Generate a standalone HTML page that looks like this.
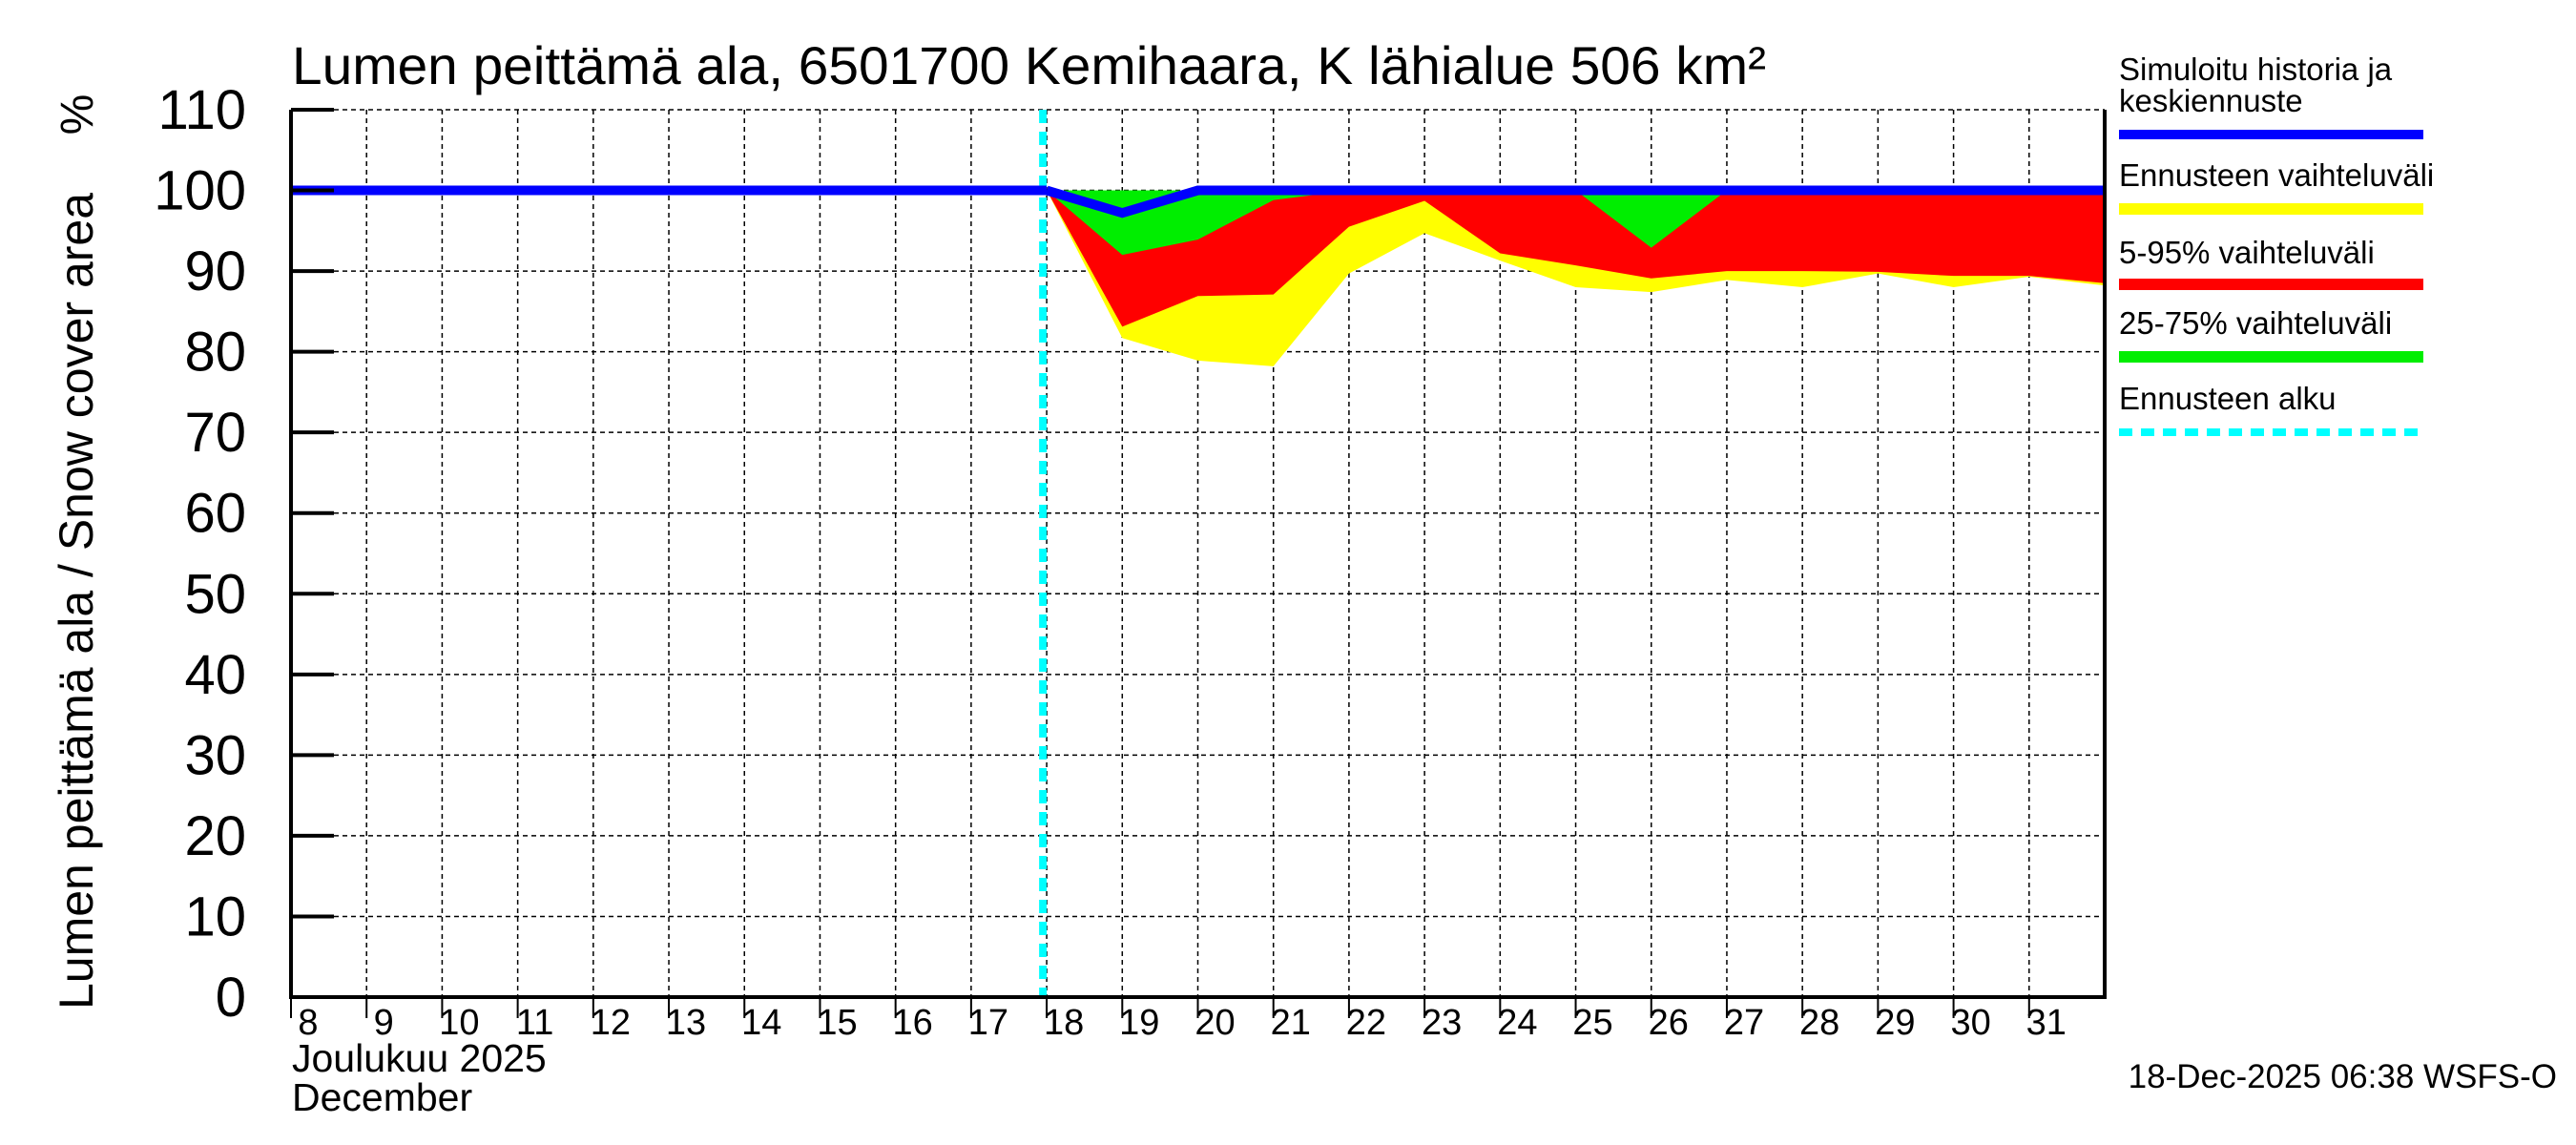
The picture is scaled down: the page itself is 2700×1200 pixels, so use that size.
<!DOCTYPE html>
<html><head><meta charset="utf-8"><style>
body{margin:0;background:#fff;}
svg{display:block;font-family:"Liberation Sans",sans-serif;}
</style></head><body>
<svg id="chart" width="2700" height="1200" viewBox="0 0 2700 1200">
<g id="grid"></g>
<g id="areas"></g>
<g id="lines"></g>
<g id="axes"></g>
<text x="306" y="88" font-size="56" textLength="1545" lengthAdjust="spacingAndGlyphs">Lumen peittämä ala, 6501700 Kemihaara, K lähialue 506 km²</text>
<text transform="translate(97,630) rotate(-90)" text-anchor="middle" font-size="50">Lumen peittämä ala / Snow cover area</text>
<text transform="translate(97,120) rotate(-90)" text-anchor="middle" font-size="48">%</text>
<text x="306" y="1123" font-size="41">Joulukuu  2025</text>
<text x="306" y="1164" font-size="41">December</text>
<text x="2680" y="1140" text-anchor="end" font-size="35">18-Dec-2025 06:38 WSFS-O</text>
<g font-size="33">
<text x="2221" y="84">Simuloitu historia ja</text>
<text x="2221" y="117">keskiennuste</text>
<line x1="2221" x2="2540" y1="141" y2="141" stroke="#0000ff" stroke-width="10"/>
<text x="2221" y="195">Ennusteen vaihteluväli</text>
<line x1="2221" x2="2540" y1="219" y2="219" stroke="#ffff00" stroke-width="12"/>
<text x="2221" y="276">5-95% vaihteluväli</text>
<line x1="2221" x2="2540" y1="298" y2="298" stroke="#ff0000" stroke-width="12"/>
<text x="2221" y="350">25-75% vaihteluväli</text>
<line x1="2221" x2="2540" y1="374" y2="374" stroke="#00ee00" stroke-width="12"/>
<text x="2221" y="429">Ennusteen alku</text>
<line x1="2221" x2="2540" y1="453" y2="453" stroke="#00ffff" stroke-width="8" stroke-dasharray="14,9"/>
</g>
</svg>
<script>
const days = [8,9,10,11,12,13,14,15,16,17,18,19,20,21,22,23,24,25,26,27,28,29,30,31];
const yTicks = [0,10,20,30,40,50,60,70,80,90,100,110];
const fcDays = [18,19,20,21,22,23,24,25,26,27,28,29,30,31,32];
const yellowLow = [100,81.7,78.9,78.2,89.7,94.7,91.3,88.0,87.4,88.9,88.0,89.7,88.0,89.3,88.2];
const redLow = [100,83.1,86.9,87.1,95.5,98.7,92.2,90.7,89.1,90.0,90.0,89.9,89.4,89.4,88.5];
const greenLow = [100,92.0,93.9,98.8,100,100,100,100,92.9,100,100,100,100,100,100];
const upper = [100,100,100,100,100,100,100,100,100,100,100,100,100,100,100];
const histDays = [8,18];
const histVals = [100,100];
const medDays = [18,19,20,21,22,23,24,25,26,27,28,29,30,31,32];
const medVals = [100,97.2,100,100,100,100,100,100,100,100,100,100,100,100,100];
const forecastStart = 17.95;

const L=305,R=2206,T=115,B=1045;
const xS=d=>L+(d-8)*(R-L)/24;
const yS=v=>B-v*(B-T)/110;
const NS='http://www.w3.org/2000/svg';
function mk(tag,attrs,parent){const e=document.createElementNS(NS,tag);for(const k in attrs)e.setAttribute(k,attrs[k]);parent.appendChild(e);return e;}
const grid=document.getElementById('grid'),areas=document.getElementById('areas'),lines=document.getElementById('lines'),axes=document.getElementById('axes');
yTicks.forEach(v=>{
  const g=mk('line',{x1:L,x2:R,y1:yS(v),y2:yS(v),stroke:'#000','stroke-width':1.5,'stroke-dasharray':'5,4'},grid);
  
  
  const t=mk('line',{x1:L,x2:L+45,y1:yS(v),y2:yS(v),stroke:'#000','stroke-width':4},axes);
  
  
  const lb=mk('text',{x:258,y:yS(v)+20,'text-anchor':'end','font-size':58},axes);
  lb.textContent=v;
  
  
});
days.forEach(d=>{
  const g=mk('line',{x1:xS(d),x2:xS(d),y1:T,y2:B,stroke:'#000','stroke-width':1.5,'stroke-dasharray':'5,4'},grid);
  
  
  const t=mk('line',{x1:xS(d),x2:xS(d),y1:B,y2:B+22,stroke:'#000','stroke-width':2},axes);
  
  
  const lb=mk('text',{x:xS(d)+18,y:1084,'text-anchor':'middle','font-size':38},axes);
  lb.textContent=d;
  
  
});
function band(lo,hi,color,name){
  let p=fcDays.map((d,i)=>xS(d)+','+yS(hi[i])).join(' ');
  p+=' '+fcDays.map((d,i)=>xS(d)+','+yS(lo[i])).reverse().join(' ');
  const e=mk('polygon',{points:p,fill:color},areas);
  
  
}
band(yellowLow,upper,'#ffff00','range-band');
band(redLow,upper,'#ff0000','band-5-95');
band(greenLow,upper,'#00ee00','band-25-75');
const fl=mk('line',{x1:xS(forecastStart),x2:xS(forecastStart),y1:T,y2:B,stroke:'#00ffff','stroke-width':8,'stroke-dasharray':'14,9'},lines);


const hp=mk('polyline',{points:histDays.map((d,i)=>xS(d)+','+yS(histVals[i])).join(' '),fill:'none',stroke:'#0000ff','stroke-width':10},lines);


const mp=mk('polyline',{points:medDays.map((d,i)=>xS(d)+','+yS(medVals[i])).join(' '),fill:'none',stroke:'#0000ff','stroke-width':10},lines);


const ax=mk('polyline',{points:`${L},${T} ${L},${B} ${R},${B} ${R},${T}`,fill:'none',stroke:'#000','stroke-width':4},axes);


</script>
</body></html>
